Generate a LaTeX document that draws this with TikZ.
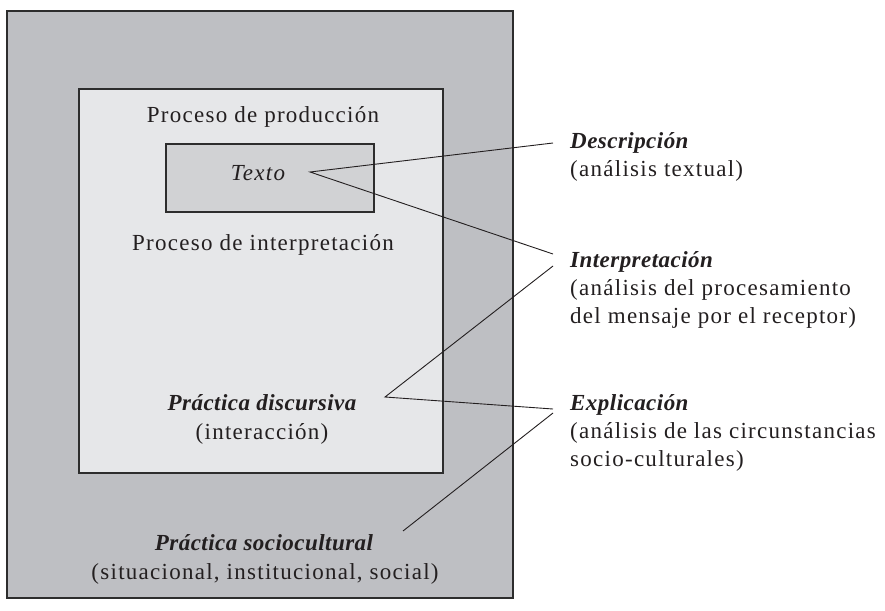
\documentclass[tikz,border=0pt]{standalone}
\usepackage{fontspec}
\setmainfont{Liberation Serif}[LetterSpace=5.5]
\newfontfamily\bifont{Liberation Serif}[LetterSpace=2]
\definecolor{outerfill}{RGB}{190,191,195}
\definecolor{innerfill}{RGB}{230,231,233}
\definecolor{boxfill}{RGB}{209,210,212}
\definecolor{edge}{RGB}{45,45,45}
\definecolor{ink}{RGB}{35,31,32}
\newcommand{\hd}[1]{{\bifont\bfseries\itshape #1}}
\begin{document}
\begin{tikzpicture}[x=1pt,y=-1pt,
  frame/.style={draw=edge,line width=1.2pt,inner sep=0pt},
  lbl/.style={text=ink,inner sep=0pt,anchor=base,font=\fontsize{23}{28}\selectfont},
  side/.style={lbl,anchor=base west},
  conn/.style={draw=ink,line width=0.9pt}]
\useasboundingbox (0,0) rectangle (885,610);
\node[frame,fill=outerfill,minimum width=506pt,minimum height=587pt] (outer) at (260,304.5) {};
\node[frame,fill=innerfill,minimum width=364pt,minimum height=384pt] (inner) at (261,281) {};
\node[frame,fill=boxfill,minimum width=208pt,minimum height=68pt] (tbox) at (270,178) {};
\node[lbl] (prod) at (263,122) {Proceso de producción};
\node[lbl] (texto) at (258,180) {\itshape Texto};
\node[lbl] (interp) at (263,250) {Proceso de interpretación};
\node[lbl] (pdisc) at (262,410) {\hd{Práctica discursiva}};
\node[lbl] (pdisc2) at (262,439) {(interacción)};
\node[lbl] (psoc) at (264,550) {\hd{Práctica sociocultural}};
\node[lbl] (psoc2) at (265,579) {(situacional, institucional, social)};
\node[side] (desc) at (570,148) {\hd{Descripción}};
\node[side] (desc2) at (570,176) {(análisis textual)};
\node[side] (inte) at (570,267) {\hd{Interpretación}};
\node[side] (inte2) at (570,295) {(análisis del procesamiento};
\node[side] (inte3) at (570,323) {del mensaje por el receptor)};
\node[side] (expl) at (570,410) {\hd{Explicación}};
\node[side] (expl2) at (570,438) {(análisis de las circunstancias};
\node[side] (expl3) at (570,466) {socio-culturales)};
\coordinate (t) at (310,172);
\coordinate (d) at (385,397);
\coordinate (s) at (403,531);
\coordinate (e1) at (553,143);
\coordinate (e2) at (553,254);
\coordinate (e3) at (553,266);
\coordinate (e4) at (553,409);
\coordinate (e5) at (553,413);
\draw[conn] (e1) -- (t) -- (e2);
\draw[conn] (e3) -- (d) -- (e4);
\draw[conn] (e5) -- (s);
\end{tikzpicture}
\end{document}
